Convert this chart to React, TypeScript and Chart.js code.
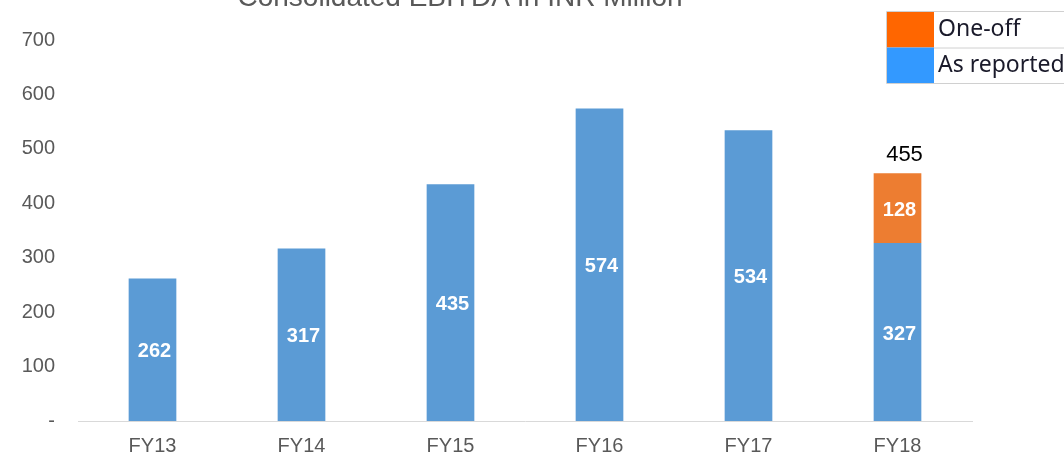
import React, { useEffect, useRef } from "react";
import { Chart, registerables } from "chart.js";

Chart.register(...registerables);

const categories = ["FY13", "FY14", "FY15", "FY16", "FY17", "FY18"];
const asReported = [262, 317, 435, 574, 534, 327];
const oneOff = [null, null, null, null, null, 128];
const totals = [null, null, null, null, null, 455];
const yTicks = [0, 100, 200, 300, 400, 500, 600, 700];
const titleText = "Consolidated EBITDA in INR Million";
const legendItems = [
  { label: "One-off", color: "#FF6600" },
  { label: "As reported", color: "#3399FF" },
];

const FONT = "'Liberation Sans', Arial, sans-serif";

const overlayPlugin = {
  id: "overlay",
  afterDatasetsDraw(chart: any) {
    const ctx = chart.ctx;
    ctx.save();
    // value labels inside bars
    ctx.font = `bold 20px ${FONT}`;
    ctx.fillStyle = "#FFFFFF";
    ctx.textAlign = "center";
    ctx.textBaseline = "middle";
    chart.data.datasets.forEach((ds: any, di: number) => {
      const meta = chart.getDatasetMeta(di);
      meta.data.forEach((bar: any, i: number) => {
        const v = ds.data[i];
        if (v == null) return;
        const mid = (bar.y + bar.base) / 2;
        ctx.fillText(String(v), bar.x + 2, mid + 2);
      });
    });
    // totals above bars
    ctx.font = `22px ${FONT}`;
    ctx.fillStyle = "#000000";
    ctx.textBaseline = "alphabetic";
    const metaTop = chart.getDatasetMeta(1);
    totals.forEach((t, i) => {
      if (t == null) return;
      const bar: any = metaTop.data[i];
      const y = chart.scales.y.getPixelForValue(t);
      ctx.fillText(String(t), bar.x + 7, y - 12);
    });
    ctx.restore();
  },
  afterDraw(chart: any) {
    const ctx = chart.ctx;
    ctx.save();
    // title (clipped at top as in reference)
    ctx.font = `28px ${FONT}`;
    ctx.fillStyle = "#595959";
    ctx.textAlign = "center";
    ctx.textBaseline = "alphabetic";
    ctx.fillText(titleText, 460, 6);
    // legend box
    const lx = 887;
    const ly = 12;
    const rowH = 35.5;
    const sw = 47;
    ctx.strokeStyle = "#D0D0D0";
    ctx.lineWidth = 1;
    legendItems.forEach((it, i) => {
      const y = ly + i * rowH;
      ctx.fillStyle = it.color;
      ctx.fillRect(lx, y, sw, rowH);
    });
    ctx.beginPath();
    ctx.moveTo(lx - 0.5, ly - 0.5);
    ctx.lineTo(1064, ly - 0.5);
    ctx.moveTo(lx + sw, ly + rowH + 0.5);
    ctx.lineTo(1064, ly + rowH + 0.5);
    ctx.moveTo(lx - 0.5, ly + 2 * rowH + 0.5);
    ctx.lineTo(1064, ly + 2 * rowH + 0.5);
    ctx.moveTo(lx - 0.5, ly - 0.5);
    ctx.lineTo(lx - 0.5, ly + 2 * rowH + 0.5);
    ctx.stroke();
    ctx.font = `23px 'Noto Sans', 'Open Sans', sans-serif`;
    ctx.fillStyle = "#1A1A2A";
    ctx.textAlign = "left";
    ctx.textBaseline = "middle";
    legendItems.forEach((it, i) => {
      const y = ly + i * rowH + rowH / 2;
      ctx.fillText(it.label, lx + sw + 4, y);
    });
    ctx.restore();
  },
};

export default function App() {
  const ref = useRef<HTMLCanvasElement>(null);
  useEffect(() => {
    if (!ref.current) return;
    const chart = new Chart(ref.current, {
      type: "bar",
      data: {
        labels: categories,
        datasets: [
          {
            label: "As reported",
            data: asReported,
            backgroundColor: "#5B9BD5",
            categoryPercentage: 1,
            barPercentage: 0.32,
          },
          {
            label: "One-off",
            data: oneOff as any,
            backgroundColor: "#ED7D31",
            categoryPercentage: 1,
            barPercentage: 0.32,
          },
        ],
      },
      options: {
        animation: false,
        responsive: false,
        maintainAspectRatio: false,
        layout: { padding: { left: 0, top: 40, right: 92, bottom: 0 } },
        plugins: {
          legend: { display: false },
          title: { display: false },
          tooltip: { enabled: false },
        },
        scales: {
          x: {
            stacked: true,
            grid: { display: false, drawTicks: false },
            border: { display: true, color: "#D9D9D9", width: 1 },
            ticks: {
              color: "#595959",
              font: { family: FONT, size: 20 },
              padding: 13,
            },
            afterFit: (s: any) => {
              s.height = 35;
            },
          },
          y: {
            stacked: true,
            min: 0,
            max: 700,
            grid: { display: false, drawTicks: false },
            border: { display: false },
            afterBuildTicks: (s: any) => {
              s.ticks = yTicks.map((v) => ({ value: v }));
            },
            ticks: {
              color: "#595959",
              font: { family: FONT, size: 20 },
              padding: 23,
              callback: (v: any) => (Number(v) === 0 ? "-" : String(v)),
            },
            afterFit: (s: any) => {
              s.width = 78;
            },
          },
        },
      },
      plugins: [overlayPlugin],
    });
    return () => chart.destroy();
  }, []);
  return (
    <div style={{ position: "fixed", left: 0, top: 0, width: 1064, height: 456, background: "#fff" }}>
      <canvas ref={ref} width={1064} height={456} style={{ width: 1064, height: 456 }} />
    </div>
  );
}
